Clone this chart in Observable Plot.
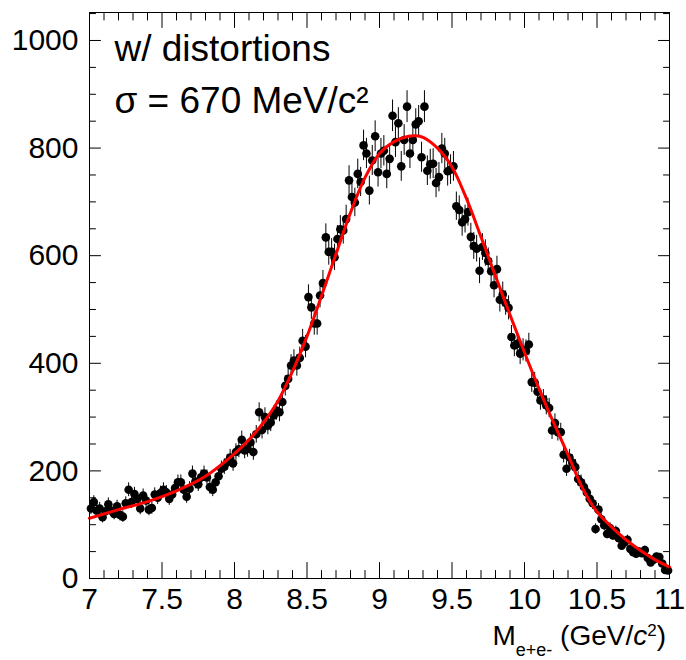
<!DOCTYPE html>
<html>
<head>
<meta charset="utf-8">
<script src="https://cdn.jsdelivr.net/npm/d3@7"></script>
<script src="https://cdn.jsdelivr.net/npm/@observablehq/plot@0.6"></script>
<style>
  html, body { margin: 0; padding: 0; background: #fff; }
  #chart svg { display: block; }
</style>
</head>
<body>
<div id="chart"></div>
<script>
// ---- Data ----
const binLow = 7.0;
const binWidth = 0.02;
const counts = [
  130,142,126,130,114,125,138,126,120,134,
  118,115,140,165,142,157,148,130,154,145,
  128,131,156,150,159,165,160,148,156,168,
  179,179,165,152,167,195,180,175,188,195,
  188,170,165,179,190,204,208,216,225,214,
  235,240,258,238,241,253,235,268,309,276,
  300,284,290,303,312,309,328,358,371,396,
  405,396,410,442,431,523,504,474,474,526,
  549,634,607,607,597,631,649,647,668,740,
  709,699,752,737,805,790,721,777,822,755,
  790,795,752,780,860,811,846,766,815,877,
  790,815,844,850,783,877,758,770,771,735,
  746,799,790,757,760,766,692,685,662,668,
  681,635,618,613,572,616,605,590,571,545,
  575,518,528,512,503,449,433,436,418,425,
  423,435,365,364,347,331,333,322,317,275,
  289,272,272,230,204,225,215,207,185,179,
  170,160,148,140,92,128,110,99,83,94,
  80,88,75,61,67,72,55,49,46,50,
  47,53,38,30,35,41,40,28,16,15
];

// fit curve
const fitX = [7.0,7.2,7.4,7.6,7.8,8.0,8.1,8.2,8.3,8.4,8.5,8.6,8.7,8.8,8.9,9.0,9.1,9.2,9.25,9.3,9.4,9.5,9.6,9.7,9.8,9.9,10.0,10.1,10.2,10.3,10.4,10.5,10.6,10.7,10.8,10.9,11.0];
const fitY = [112,128,143,163,190,232,258,290,330,385,450,525,603,680,745,790,812,822,823,820,800,765,706,635,562,490,420,353,290,230,168,124,96,72,52,35,21];

// axes
const xDomain = [7, 11];
const yDomain = [0, 1052];
const xMajor = [7, 7.5, 8, 8.5, 9, 9.5, 10, 10.5, 11];
const xTickLabels = ["7", "7.5", "8", "8.5", "9", "9.5", "10", "10.5", "11"];
const yMajor = [0, 200, 400, 600, 800, 1000];
const yTickLabels = ["0", "200", "400", "600", "800", "1000"];
const xMinorStep = 0.1;
const yMinorStep = 50;

const annotations = ["w/ distortions", "σ = 670 MeV/c²"];

// ---- Build tables ----
const points = counts.map((c, i) => ({
  x: binLow + binWidth * (i + 0.5),
  y: c,
  lo: c - Math.sqrt(c),
  hi: c + Math.sqrt(c)
}));
const fit = fitX.map((x, i) => ({x, y: fitY[i]}));

const xMinor = d3.range(xDomain[0], xDomain[1] + 1e-9, xMinorStep)
  .map(v => Math.round(v * 10) / 10)
  .filter(v => !xMajor.some(m => Math.abs(m - v) < 1e-6));
const yMinor = d3.range(0, yDomain[1], yMinorStep)
  .filter(v => !yMajor.includes(v));

const line = {draw(context, l) { context.moveTo(0, 0); context.lineTo(0, -l); }};
const tickOpts = {shape: line, anchor: "start", stroke: "black", strokeWidth: 1};

const xLab = new Map(xMajor.map((v, i) => [v, xTickLabels[i]]));
const yLab = new Map(yMajor.map((v, i) => [v, yTickLabels[i]]));

const plot = Plot.plot({
  width: 686,
  height: 660,
  marginLeft: 89,
  marginRight: 17,
  marginTop: 12,
  marginBottom: 82,
  style: {fontFamily: "'Liberation Sans', Arial, Helvetica, sans-serif", fontSize: "30px", background: "white", color: "black"},
  x: {domain: xDomain, label: null},
  y: {domain: yDomain, label: null},
  marks: [
    // error bars and points
    Plot.ruleX(points, {x: d => d.x, y1: d => d.lo, y2: d => d.hi, stroke: "black", strokeWidth: 1}),
    Plot.dot(points, {x: d => d.x, y: d => d.y, r: 4.3, fill: "black", stroke: "none"}),
    // fit
    Plot.line(fit, {x: d => d.x, y: d => d.y, stroke: "#ff0000", strokeWidth: 3, curve: "catmull-rom"}),
    // frame
    Plot.frame({stroke: "black", strokeWidth: 1}),
    // inward ticks: bottom
    Plot.vector(xMajor, {x: d => d, y: () => yDomain[0], length: 16, rotate: 0, ...tickOpts}),
    Plot.vector(xMinor, {x: d => d, y: () => yDomain[0], length: 8, rotate: 0, ...tickOpts}),
    // top
    Plot.vector(xMajor, {x: d => d, y: () => yDomain[1], length: 15, rotate: 180, ...tickOpts}),
    Plot.vector(xMinor, {x: d => d, y: () => yDomain[1], length: 7.5, rotate: 180, ...tickOpts}),
    // left
    Plot.vector(yMajor, {x: () => xDomain[0], y: d => d, length: 11, rotate: 90, ...tickOpts}),
    Plot.vector(yMinor, {x: () => xDomain[0], y: d => d, length: 6, rotate: 90, ...tickOpts}),
    // right
    Plot.vector(yMajor, {x: () => xDomain[1], y: d => d, length: 11, rotate: -90, ...tickOpts}),
    Plot.vector(yMinor, {x: () => xDomain[1], y: d => d, length: 6, rotate: -90, ...tickOpts}),
    // tick labels
    Plot.axisX(xMajor, {anchor: "bottom", tickSize: 0, tickPadding: 9, fontSize: 30, tickFormat: d => xLab.get(d)}),
    Plot.axisY(yMajor, {anchor: "left", tickSize: 0, tickPadding: 11, fontSize: 30, tickFormat: d => yLab.get(d)}),
    // annotations
    Plot.text([annotations[0]], {frameAnchor: "top-left", text: d => d, dx: 25, dy: 37, fontSize: 37, textAnchor: "start", lineAnchor: "middle"}),
    Plot.text([annotations[1]], {frameAnchor: "top-left", text: d => d, dx: 25, dy: 89, fontSize: 37, textAnchor: "start", lineAnchor: "middle"})
  ]
});

document.getElementById("chart").appendChild(plot);

// x-axis title with sub/superscripts
const svg = d3.select(plot);
const t = svg.append("text")
  .attr("x", 666).attr("y", 645)
  .attr("text-anchor", "end")
  .attr("font-family", "'Liberation Sans', Arial, Helvetica, sans-serif")
  .attr("font-size", 28)
  .attr("fill", "black");
t.append("tspan").text("M");
t.append("tspan").attr("font-size", 18).attr("dy", 11).text("e+e-");
t.append("tspan").attr("dy", -11).text(" (GeV/");
t.append("tspan").attr("font-style", "italic").text("c");
t.append("tspan").attr("font-size", 17).attr("dy", -9).text("2");
t.append("tspan").attr("dy", 9).text(")");
</script>
</body>
</html>
